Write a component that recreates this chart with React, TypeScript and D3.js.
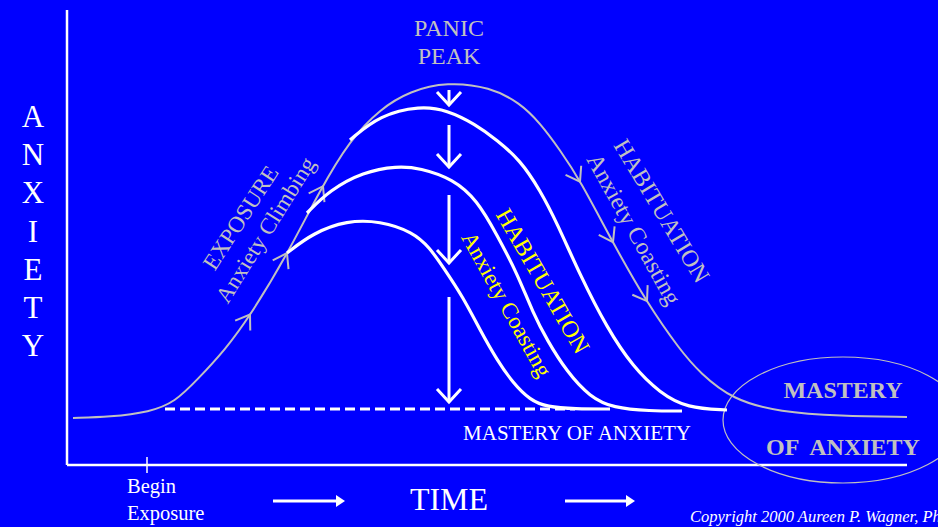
import React, { useEffect, useRef } from 'react';
import * as d3 from 'd3';

const WIDTH = 938, HEIGHT = 527;
const BLUE = '#0000ff', GRAY = '#c0c0c0', YELLOW = '#ffff00', WHITE = '#ffffff';
const SERIF = '"Liberation Serif", "Times New Roman", serif';

// time runs 0..84, anxiety 0..91
const panicCurve = [
    [0.6, 9.4], [4.3, 9.6], [8.3, 10.6], [10.8, 12.6], [13.0, 17.0], [15.8, 23.0],
    [18.3, 29.8], [22.0, 42.0], [25.3, 55.0], [28.3, 65.0], [31.3, 71.2], [34.3, 74.8],
    [38.0, 76.6], [42.3, 75.6], [45.3, 72.4], [47.3, 68.4], [49.3, 63.0], [51.3, 57.0],
    [54.6, 44.4], [58.0, 32.4], [61.3, 23.0], [63.3, 18.4], [66.6, 13.0], [71.3, 10.6],
    [77.3, 9.8], [84.0, 9.6]
];
const coastHigh = [
    [28.3, 65.0], [31.3, 70.0], [35.3, 71.8], [38.0, 71.0], [40.8, 68.2], [43.0, 65.0],
    [45.3, 61.0], [47.3, 55.0], [49.0, 48.4], [51.3, 38.0], [54.0, 27.4], [56.6, 19.6],
    [59.3, 14.4], [62.0, 11.4], [66.0, 11.0]
];
const coastMid = [
    [24.0, 50.4], [26.3, 55.0], [29.6, 58.6], [33.0, 59.8], [35.3, 59.4], [38.6, 57.2],
    [41.0, 53.0], [43.0, 46.0], [45.0, 38.4], [46.6, 30.4], [48.0, 25.0], [50.0, 18.6],
    [52.3, 13.6], [54.6, 11.4], [58.3, 10.8], [61.5, 10.8]
];
const coastLow = [
    [22.0, 42.4], [24.6, 46.4], [28.0, 48.9], [31.3, 48.8], [34.6, 46.6], [36.3, 43.4],
    [37.6, 39.6], [39.6, 33.6], [41.3, 27.0], [43.0, 21.0], [44.6, 16.4], [46.3, 13.0],
    [48.0, 11.6], [50.8, 11.2], [54.3, 11.2]
];
const masteryLevel = [[9.8, 11.2], [50.8, 11.2]];
const climbArrows = [18.3, 22.0, 25.6];
const coastArrows = [51.3, 54.6, 58.0];
const dropTime = 38.2;
const drops = [[75, 72], [68, 59.6], [54, 40.4], [33.6, 12.6]];
const beginTime = 8;
const axisLetters = ['A', 'N', 'X', 'I', 'E', 'T', 'Y'];

export default function App() {
    const ref = useRef(null);

    useEffect(() => {
        document.body.style.margin = '0';
        const svg = d3.select(ref.current);
        svg.selectAll('*').remove();

        const x = d3.scaleLinear().domain([0, 84]).range([67, 907]);
        const y = d3.scaleLinear().domain([0, 91]).range([465, 10]);
        const line = d3.line()
            .x(d => x(d[0]))
            .y(d => y(d[1]))
            .curve(d3.curveBasis);

        svg.append('rect').attr('width', WIDTH).attr('height', HEIGHT).attr('fill', BLUE);

        // axes
        svg.append('line').attr('x1', x(0)).attr('x2', x(0)).attr('y1', y(91)).attr('y2', y(0))
            .attr('stroke', WHITE).attr('stroke-width', 2.5);
        svg.append('line').attr('x1', x(0)).attr('x2', x(84)).attr('y1', y(0)).attr('y2', y(0))
            .attr('stroke', WHITE).attr('stroke-width', 2.5);
        svg.append('line').attr('x1', x(beginTime)).attr('x2', x(beginTime))
            .attr('y1', y(0) - 8).attr('y2', y(0) + 8)
            .attr('stroke', WHITE).attr('stroke-width', 1.5);

        // mastery ellipse
        svg.append('ellipse').attr('cx', x(77.6)).attr('cy', y(9)).attr('rx', 120).attr('ry', 63)
            .attr('fill', 'none').attr('stroke', GRAY).attr('stroke-width', 1.2);

        // panic curve
        const panic = svg.append('path').datum(panicCurve)
            .attr('d', line).attr('fill', 'none').attr('stroke', GRAY).attr('stroke-width', 2);

        // chevrons along the panic curve
        const node = panic.node();
        const total = node.getTotalLength();
        const lengthAt = (px) => {
            let lo = 0, hi = total;
            for (let i = 0; i < 40; i++) {
                const mid = (lo + hi) / 2;
                if (node.getPointAtLength(mid).x < px) lo = mid; else hi = mid;
            }
            return lo;
        };
        const chevron = (t) => {
            const len = lengthAt(x(t));
            const p = node.getPointAtLength(len);
            const a = node.getPointAtLength(Math.max(0, len - 2));
            const b = node.getPointAtLength(Math.min(total, len + 2));
            let ux = b.x - a.x, uy = b.y - a.y;
            const n = Math.hypot(ux, uy);
            ux /= n; uy /= n;
            const arm = (ang) => {
                const c = Math.cos(ang), s = Math.sin(ang);
                const bx = -ux, by = -uy;
                return [p.x + 16 * (bx * c - by * s), p.y + 16 * (bx * s + by * c)];
            };
            const [l1, l2] = [arm(0.6), arm(-0.6)];
            svg.append('path')
                .attr('d', `M${l1[0]},${l1[1]}L${p.x},${p.y}L${l2[0]},${l2[1]}`)
                .attr('fill', 'none').attr('stroke', GRAY).attr('stroke-width', 2);
        };
        climbArrows.forEach(chevron);
        coastArrows.forEach(chevron);

        // habituation curves
        [coastHigh, coastMid, coastLow].forEach(data => {
            svg.append('path').datum(data).attr('d', line)
                .attr('fill', 'none').attr('stroke', WHITE).attr('stroke-width', 3.2);
        });
        svg.append('path').datum(masteryLevel).attr('d', d3.line().x(d => x(d[0])).y(d => y(d[1])))
            .attr('fill', 'none').attr('stroke', WHITE).attr('stroke-width', 3)
            .attr('stroke-dasharray', '10,5');

        // drop arrows
        drops.forEach(([top, tip]) => {
            const cx = x(dropTime), ty = y(tip);
            svg.append('line').attr('x1', cx).attr('x2', cx).attr('y1', y(top)).attr('y2', ty)
                .attr('stroke', WHITE).attr('stroke-width', 3);
            svg.append('path').attr('d', `M${cx - 12},${ty - 13}L${cx},${ty}L${cx + 12},${ty - 13}`)
                .attr('fill', 'none').attr('stroke', WHITE).attr('stroke-width', 3);
        });

        const text = (str, tx, ty, opts) => {
            const t = svg.append('text')
                .attr('transform', `translate(${tx},${ty})` + (opts.rotate ? ` rotate(${opts.rotate})` : ''))
                .attr('text-anchor', opts.anchor || 'middle')
                .attr('font-family', SERIF)
                .attr('font-size', opts.size)
                .attr('fill', opts.color || WHITE)
                .style('white-space', 'pre')
                .text(str);
            if (opts.bold) t.attr('font-weight', 'bold');
            if (opts.italic) t.attr('font-style', 'italic');
            return t;
        };

        axisLetters.forEach((ch, i) => text(ch, 33, 127 + i * 38.2, { size: 31 }));

        text('PANIC', 449, 36, { size: 24, color: GRAY });
        text('PEAK', 449, 64, { size: 24, color: GRAY });

        text('EXPOSURE', 247, 222, { size: 23, color: GRAY, rotate: -57 });
        text('Anxiety Climbing', 272, 234, { size: 23, color: GRAY, rotate: -58 });

        text('HABITUATION', 536, 285, { size: 24, color: YELLOW, rotate: 60 });
        text('Anxiety Coasting', 500, 308, { size: 23, color: YELLOW, rotate: 61 });

        text('HABITUATION', 655, 215, { size: 24, color: GRAY, rotate: 59 });
        text('Anxiety Coasting', 627, 233, { size: 24, color: GRAY, rotate: 61 });

        text('MASTERY OF ANXIETY', 577, 440, { size: 21 });
        text('MASTERY', 843, 398, { size: 24, color: GRAY, bold: true });
        text('OF  ANXIETY', 843, 455, { size: 24, color: GRAY, bold: true });

        text('Begin', 127, 493, { size: 20.5, anchor: 'start' });
        text('Exposure', 127, 520, { size: 20.5, anchor: 'start' });
        text('TIME', 449, 510, { size: 32 });
        text('Copyright 2000 Aureen P. Wagner, Ph.D.', 690, 522, { size: 16.5, anchor: 'start', italic: true });

        // time arrows
        [[273, 345], [565, 635]].forEach(([x0, x1]) => {
            svg.append('line').attr('x1', x0).attr('x2', x1 - 8).attr('y1', 501).attr('y2', 501)
                .attr('stroke', WHITE).attr('stroke-width', 3);
            svg.append('path').attr('d', `M${x1 - 9},495L${x1},501L${x1 - 9},507Z`).attr('fill', WHITE);
        });
    }, []);

    return <svg ref={ref} width={WIDTH} height={HEIGHT} style={{ display: 'block' }} />;
}
